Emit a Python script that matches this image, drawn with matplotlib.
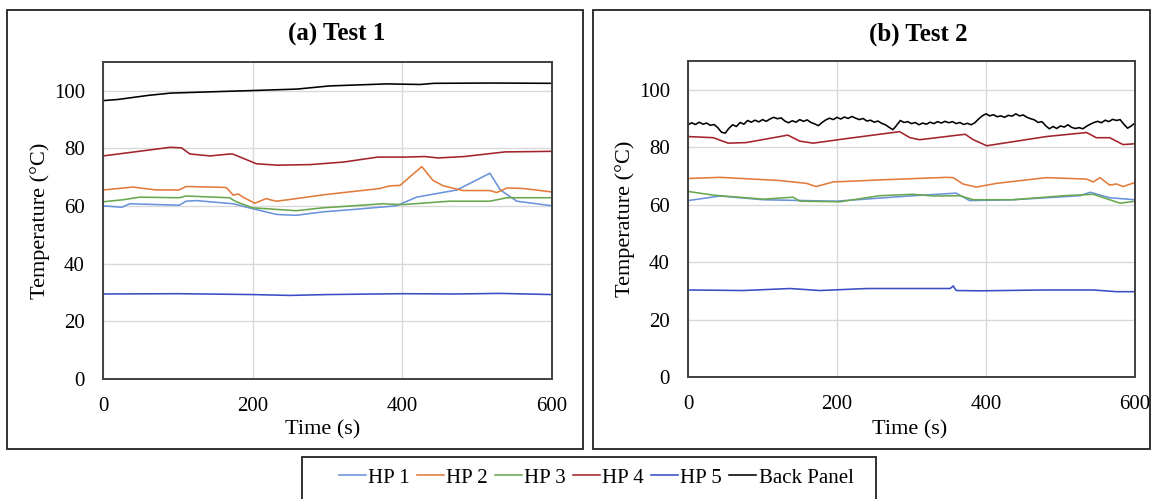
import numpy as np
import matplotlib
matplotlib.use("Agg")
import matplotlib.pyplot as plt
from matplotlib.patches import Rectangle
from matplotlib.lines import Line2D

plt.rcParams['font.family'] = ['Liberation Serif', 'DejaVu Serif']

series_names = ["HP 1", "HP 2", "HP 3", "HP 4", "HP 5", "Back Panel"]
series_colors = ["#6A93DB", "#E37B3B", "#6AA84F", "#A3232B", "#3A4DC2", "#000000"]

# ---------------- Test 1 ----------------
t1_hp1_t = [0, 25, 36, 102, 111, 125, 174, 200, 232, 258, 294, 338, 392, 419, 473, 517, 531, 553, 600]
t1_hp1_v = [60.1, 59.6, 60.8, 60.3, 61.7, 61.9, 60.8, 59.1, 57.1, 56.8, 58.0, 58.9, 60.1, 63.1, 65.6, 71.4, 65.6, 61.7, 60.1]

t1_hp2_t = [0, 40, 71, 102, 111, 160, 165, 174, 181, 187, 203, 218, 225, 232, 250, 294, 339, 370, 383, 397, 426, 441, 455, 481, 517, 526, 540, 562, 600]
t1_hp2_v = [65.6, 66.6, 65.6, 65.6, 66.8, 66.5, 66.4, 63.8, 64.2, 63.1, 61.0, 62.6, 62.1, 61.7, 62.3, 63.9, 65.2, 66.1, 67.0, 67.2, 73.7, 68.9, 67.0, 65.4, 65.4, 64.7, 66.3, 66.1, 64.9]

t1_hp3_t = [0, 27, 49, 102, 111, 169, 178, 200, 258, 294, 374, 400, 463, 517, 540, 600]
t1_hp3_v = [61.5, 62.2, 63.1, 62.9, 63.5, 62.9, 61.5, 59.4, 58.4, 59.4, 60.8, 60.5, 61.7, 61.7, 62.9, 62.9]

t1_hp4_t = [0, 90, 105, 116, 143, 170, 174, 205, 232, 277, 322, 367, 403, 430, 448, 483, 537, 600]
t1_hp4_v = [77.4, 80.4, 80.2, 78.1, 77.4, 78.1, 78.0, 74.7, 74.2, 74.4, 75.3, 77.0, 77.0, 77.2, 76.7, 77.2, 78.8, 79.0]

t1_hp5_t = [0, 100, 200, 250, 300, 400, 470, 530, 600]
t1_hp5_v = [29.5, 29.6, 29.3, 29.0, 29.3, 29.6, 29.5, 29.7, 29.3]

t1_bp_t = [0, 20, 60, 90, 150, 200, 259, 303, 379, 424, 442, 520, 600]
t1_bp_v = [96.6, 97.0, 98.4, 99.2, 99.7, 100.1, 100.6, 101.7, 102.4, 102.2, 102.6, 102.7, 102.6]

# ---------------- Test 2 ----------------
t2_hp1_t = [0, 43, 101, 199, 302, 360, 378, 436, 526, 540, 566, 600]
t2_hp1_v = [61.4, 63.0, 61.7, 61.2, 63.1, 64.0, 61.4, 61.7, 63.1, 64.3, 62.4, 61.7]

t2_hp2_t = [0, 43, 123, 159, 172, 195, 257, 347, 356, 369, 387, 414, 481, 535, 544, 553, 566, 575, 584, 600]
t2_hp2_v = [69.1, 69.5, 68.4, 67.4, 66.3, 67.9, 68.6, 69.5, 69.4, 67.2, 66.1, 67.4, 69.4, 68.9, 67.9, 69.4, 66.8, 67.2, 66.3, 67.7]

t2_hp3_t = [0, 34, 101, 141, 150, 204, 257, 302, 329, 365, 383, 436, 504, 544, 580, 600]
t2_hp3_v = [64.6, 63.3, 61.9, 62.6, 61.2, 61.0, 63.1, 63.6, 63.0, 63.1, 61.7, 61.7, 63.1, 63.6, 60.5, 61.2]

t2_hp4_t = [0, 34, 54, 78, 134, 150, 168, 213, 284, 298, 311, 372, 383, 401, 436, 481, 535, 548, 566, 584, 600]
t2_hp4_v = [83.7, 83.3, 81.4, 81.6, 84.2, 82.1, 81.4, 83.0, 85.4, 83.3, 82.6, 84.5, 82.6, 80.5, 81.9, 83.7, 85.1, 83.3, 83.3, 80.9, 81.2]

t2_hp5_t = [0, 74, 137, 177, 240, 352, 356, 360, 392, 481, 544, 575, 600]
t2_hp5_v = [30.3, 30.1, 30.8, 30.1, 30.8, 30.8, 31.7, 30.1, 30.0, 30.3, 30.3, 29.7, 29.7]

t2_bp_t = list(range(0, 601, 5))
t2_bp_v = [87.8, 88.5, 87.9, 88.7, 88.0, 88.4, 87.6, 87.9, 86.8, 85.2,
           84.9, 86.6, 87.8, 87.2, 88.6, 88.0, 89.3, 88.7, 89.4, 88.8,
           89.6, 89.0, 89.8, 90.4, 89.9, 90.2, 89.1, 88.5, 89.2, 88.7,
           89.6, 89.0, 89.5, 88.6, 88.1, 87.5, 88.6, 89.5, 90.1, 89.6,
           90.4, 89.8, 90.5, 90.0, 90.7, 90.1, 89.6, 90.0, 89.1, 89.4,
           88.7, 89.1, 88.3, 87.8, 86.9, 86.1, 87.6, 89.3, 88.6, 88.9,
           88.2, 88.6, 87.8, 88.4, 88.0, 88.7, 88.2, 88.9, 88.4, 89.0,
           88.5, 88.9, 88.2, 88.6, 87.9, 88.3, 87.8, 88.5, 89.8, 90.9,
           91.6, 90.9, 91.3, 90.6, 90.9, 90.4, 91.1, 90.8, 91.6, 90.9,
           91.2, 90.4, 89.9, 89.5, 88.6, 88.9, 87.5, 86.4, 87.2, 86.5,
           87.4, 87.0, 87.8, 86.9, 86.5, 86.8, 86.4, 87.3, 88.0, 88.6,
           89.0, 88.5, 89.4, 88.9, 89.7, 89.3, 89.6, 88.0, 86.6, 87.4,
           88.4]

x_ticks = [0, 200, 400, 600]
y_ticks = [0, 20, 40, 60, 80, 100]

W, H = 1151, 499
fig = plt.figure(figsize=(W / 100, H / 100), dpi=100)


def fx(px):
    return px / W


def fy(py):
    return 1 - py / H


panels = [
    dict(title="(a) Test 1", box=(7, 10, 583, 449), ax=(103, 62, 552, 379), title_xy=(337, 34),
         ylab_right=50, xlab_x=323,
         data=[(t1_hp1_t, t1_hp1_v), (t1_hp2_t, t1_hp2_v), (t1_hp3_t, t1_hp3_v),
               (t1_hp4_t, t1_hp4_v), (t1_hp5_t, t1_hp5_v), (t1_bp_t, t1_bp_v)]),
    dict(title="(b) Test 2", box=(593, 10, 1150, 449), ax=(688, 61, 1135, 377), title_xy=(918, 34),
         ylab_right=635, xlab_x=910,
         data=[(t2_hp1_t, t2_hp1_v), (t2_hp2_t, t2_hp2_v), (t2_hp3_t, t2_hp3_v),
               (t2_hp4_t, t2_hp4_v), (t2_hp5_t, t2_hp5_v), (t2_bp_t, t2_bp_v)]),
]

for p in panels:
    bx0, by0, bx1, by1 = p["box"]
    fig.patches.append(Rectangle((fx(bx0), fy(by1)), fx(bx1) - fx(bx0), fy(by0) - fy(by1),
                                 transform=fig.transFigure, fill=False, edgecolor="#222222", lw=1.3))
    ax0, ay0, ax1, ay1 = p["ax"]
    ax = fig.add_axes([fx(ax0), fy(ay1), fx(ax1) - fx(ax0), fy(ay0) - fy(ay1)])
    for (t, v), c in zip(p["data"], series_colors):
        ax.plot(t, v, color=c, lw=1.15)
    ax.set_xlim(0, 600)
    ax.set_ylim(0, 110)
    ax.set_xticks(x_ticks)
    ax.set_yticks(y_ticks)
    ax.grid(True, color="#D9D9D9", lw=1.0)
    ax.set_axisbelow(True)
    ax.tick_params(length=0, labelsize=15, pad=13)
    for s in ax.spines.values():
        s.set_color("#404040")
        s.set_linewidth(1.4)
    ax.set_xlabel("Time (s)", fontsize=16)
    ax.set_ylabel("Temperature (°C)", fontsize=16)
    hpx = ax1 - ax0
    vpx = ay1 - ay0
    ax.xaxis.set_label_coords((p["xlab_x"] - ax0) / hpx, (ay1 - 420) / vpx)
    ax.yaxis.set_label_coords((p["ylab_right"] - ax0) / hpx, 0.5)
    fig.text(fx(p["title_xy"][0]), fy(p["title_xy"][1]), p["title"], fontsize=18,
             fontweight="bold", ha="center", va="center")

# legend box
fig.patches.append(Rectangle((fx(302), -0.05), fx(876) - fx(302), fy(457) + 0.05,
                             transform=fig.transFigure, fill=False, edgecolor="#222222", lw=1.3))
handles = [Line2D([0], [0], color=c, lw=1.15) for c in series_colors]
fig.legend(handles, series_names, loc="center", bbox_to_anchor=(fx(596), fy(478)), ncol=6,
           frameon=False, fontsize=15, handlelength=1.3, handletextpad=0.1, columnspacing=0.35)

fig.savefig("out.png", dpi=100)
